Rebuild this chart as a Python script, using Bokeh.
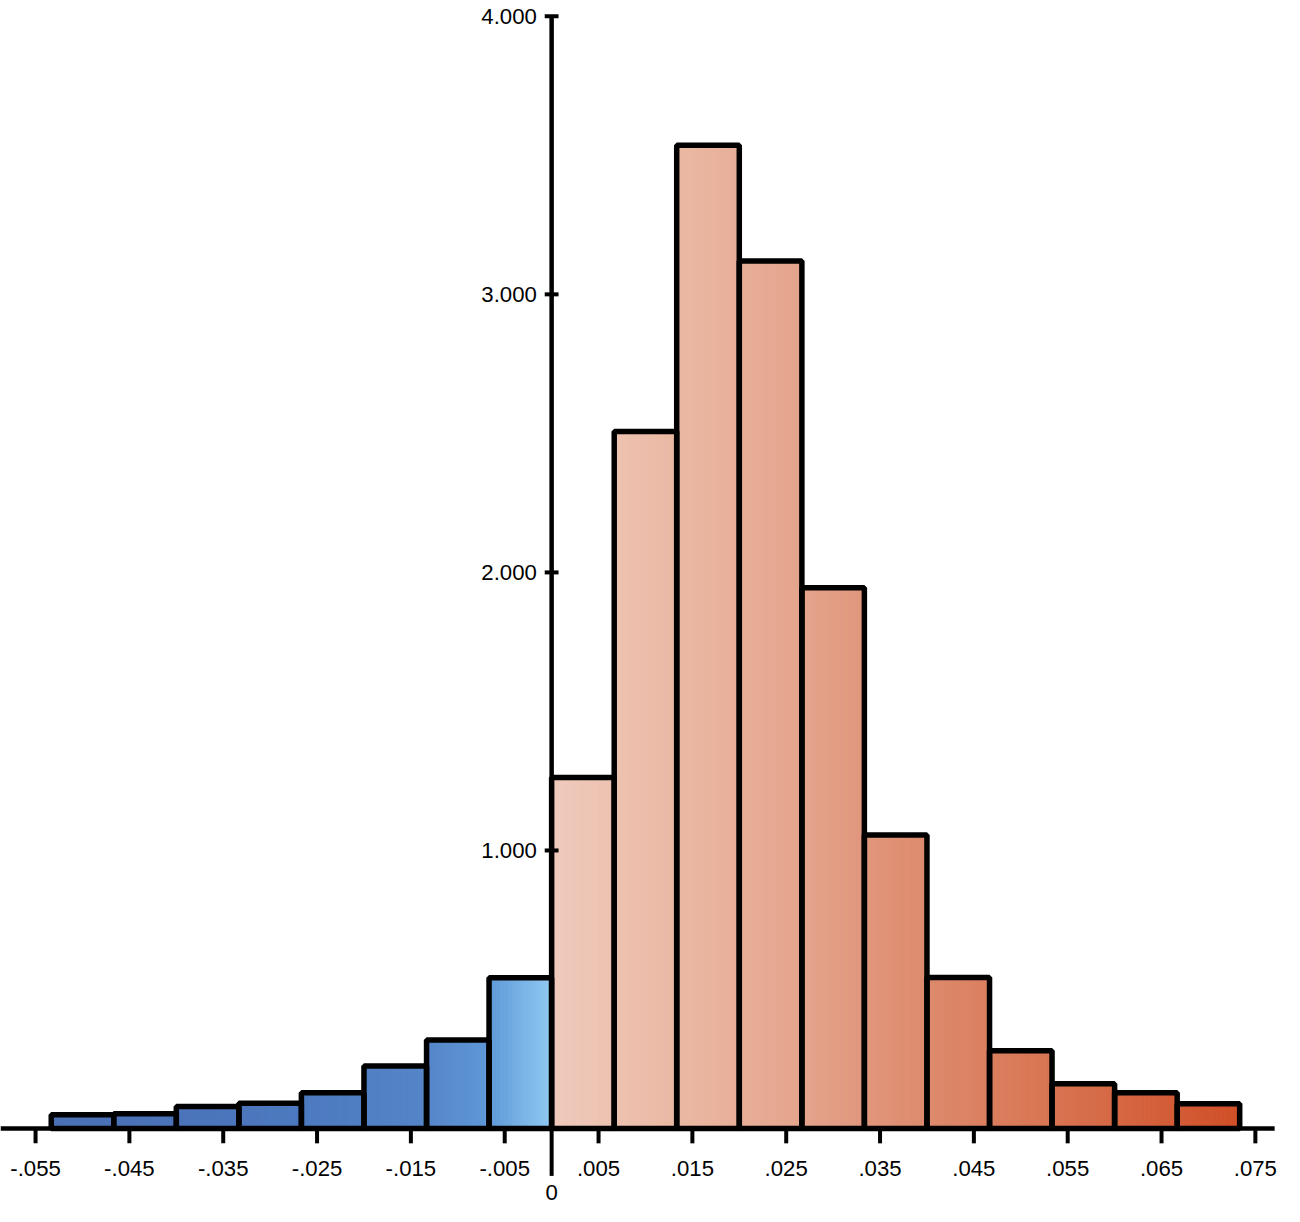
import numpy as np
from bokeh.plotting import figure
from bokeh.models import ColumnDataSource
from bokeh.embed import file_html
from bokeh.resources import INLINE
from bokeh.core.properties import value

# ---------------- data ----------------
bin_left = [-0.05333, -0.04667, -0.04, -0.03333, -0.02667, -0.02, -0.01333, -0.00667,
            0.0, 0.00667, 0.01333, 0.02, 0.02667, 0.03333, 0.04, 0.04667, 0.05333, 0.06, 0.06667]
bin_right = [-0.04667, -0.04, -0.03333, -0.02667, -0.02, -0.01333, -0.00667, 0.0,
             0.00667, 0.01333, 0.02, 0.02667, 0.03333, 0.04, 0.04667, 0.05333, 0.06, 0.06667, 0.07333]
counts = [50, 53, 79, 91, 129, 225, 318, 542,
          1262, 2507, 3536, 3120, 1945, 1056, 543, 280, 161, 129, 89]

x_ticks = [-0.055, -0.045, -0.035, -0.025, -0.015, -0.005,
           0.005, 0.015, 0.025, 0.035, 0.045, 0.055, 0.065, 0.075]
x_tick_labels = ["-.055", "-.045", "-.035", "-.025", "-.015", "-.005",
                 ".005", ".015", ".025", ".035", ".045", ".055", ".065", ".075"]
y_ticks = [1000, 2000, 3000, 4000]
y_tick_labels = ["1.000", "2.000", "3.000", "4.000"]
zero_label = ["0"]

# ---------------- style ----------------
neg_stops_x = [-0.05333, -0.02667, -0.01333, -0.00667, 0.0]
neg_stops_c = ["#4a6fb4", "#4c79bf", "#5585c8", "#5e98d8", "#90c9f1"]
pos_stops_x = [0.0, 0.01333, 0.02667, 0.04, 0.05333, 0.07333]
pos_stops_c = ["#efcabd", "#ebb9a4", "#e4a48c", "#dd8a6c", "#d87452", "#d04f27"]
FONT = "Liberation Sans"

# ---------------- layout ----------------
W, H = 1284, 1206
SX, SY = W / 1300.0, H / 1222.0
PX_X = 9500.0 * SX       # px per x unit
PX_Y = 0.28175 * SY      # px per count
X0 = 558 * SX            # px of x=0 from left of canvas
Y0 = 1143 * SY           # px of y=0 from top of canvas
FS = "%.1fpx" % (22.5 * SY)
x_start, x_end = -X0 / PX_X, (W - X0) / PX_X
y_start, y_end = -(H - Y0) / PX_Y, Y0 / PX_Y
x_axis_end = (1290 * SX - X0) / PX_X


def hex_rgb(h):
    h = h.lstrip("#")
    return np.array([int(h[i:i + 2], 16) for i in (0, 2, 4)], dtype=float)


def interp_color(x, xs, cs):
    rgb = np.array([hex_rgb(c) for c in cs])
    r = np.interp(x, xs, rgb[:, 0])
    g = np.interp(x, xs, rgb[:, 1])
    b = np.interp(x, xs, rgb[:, 2])
    return "#%02x%02x%02x" % (int(round(r)), int(round(g)), int(round(b)))


# gradient slices derived from the bins
NS = 16
sl, sr, st, sc = [], [], [], []
for l, r, c in zip(bin_left, bin_right, counts):
    edges = np.linspace(l, r, NS + 1)
    for a, b in zip(edges[:-1], edges[1:]):
        mid = 0.5 * (a + b)
        if mid < 0:
            col = interp_color(mid, neg_stops_x, neg_stops_c)
        else:
            col = interp_color(mid, pos_stops_x, pos_stops_c)
        sl.append(a); sr.append(b); st.append(c); sc.append(col)

p = figure(width=W, height=H, x_range=(x_start, x_end), y_range=(y_start, y_end),
           output_backend="svg", toolbar_location=None,
           x_axis_location=None, y_axis_location=None, min_border=0,
           outline_line_color=None, background_fill_color="white",
           border_fill_color="white")
p.xgrid.visible = False
p.ygrid.visible = False
p.title.visible = False

slices = ColumnDataSource(dict(left=sl, right=sr, top=st, bottom=[0] * len(st), color=sc))
p.quad(left="left", right="right", top="top", bottom="bottom", source=slices,
       fill_color="color", line_color="color", line_width=1)

bars = ColumnDataSource(dict(left=bin_left, right=bin_right, top=counts, bottom=[0] * len(counts)))
p.quad(left="left", right="right", top="top", bottom="bottom", source=bars,
       fill_color=None, line_color="black", line_width=5.5)

# x axis
p.segment(x0=[x_start], y0=[0], x1=[x_axis_end], y1=[0], line_color="black", line_width=4.5)
p.segment(x0=x_ticks, y0=[0] * len(x_ticks), x1=x_ticks, y1=[-15 / PX_Y * SY] * len(x_ticks),
          line_color="black", line_width=4)
p.segment(x0=[0], y0=[0], x1=[0], y1=[-48 / PX_Y * SY], line_color="black", line_width=4)
p.text(x=x_ticks, y=[-40 / PX_Y * SY] * len(x_ticks), text=x_tick_labels,
       text_font=value(FONT), text_font_size=FS, text_align="center",
       text_baseline="alphabetic", text_color="black")
p.text(x=[0], y=[-65 / PX_Y * SY], text=zero_label,
       text_font=value(FONT), text_font_size=FS, text_align="center",
       text_baseline="alphabetic", text_color="black")

# y axis
p.segment(x0=[0], y0=[0], x1=[0], y1=[y_ticks[-1]], line_color="black", line_width=4.5)
p.segment(x0=[-7 * SX / PX_X] * len(y_ticks), y0=y_ticks, x1=[7 * SX / PX_X] * len(y_ticks), y1=y_ticks,
          line_color="black", line_width=4)
p.text(x=[-15 * SX / PX_X] * len(y_ticks), y=y_ticks, text=y_tick_labels,
       text_font=value(FONT), text_font_size=FS, text_align="right",
       text_baseline="middle", text_color="black")

open("out.html", "w").write(file_html(p, INLINE))
